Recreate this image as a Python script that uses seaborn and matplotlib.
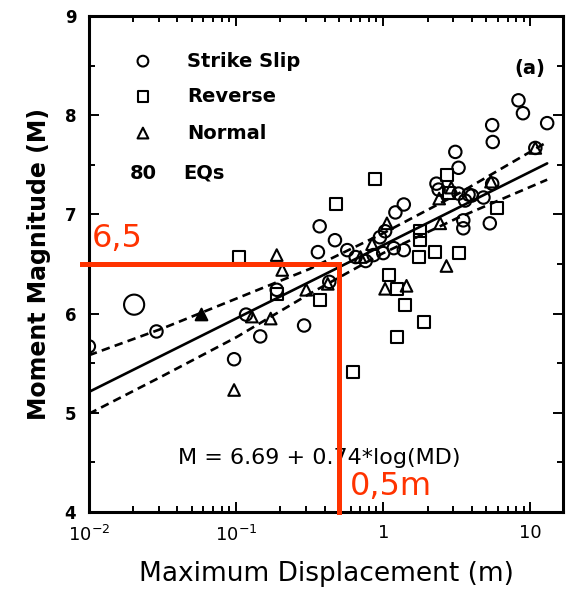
import numpy as np
import pandas as pd
import matplotlib
matplotlib.use("Agg")
import matplotlib.pyplot as plt
import seaborn as sns
from matplotlib.ticker import MultipleLocator, LogLocator, FixedLocator, FixedFormatter

# ---- data ----
strike_md = [0.01, 0.0288, 0.097, 0.117, 0.146, 0.189, 0.29, 0.36, 0.37, 0.43,
             0.47, 0.57, 0.65, 0.76, 0.86, 0.95, 1.0, 1.03, 1.18, 1.21,
             1.38, 1.38, 2.3, 2.38, 3.09, 3.25, 3.25, 3.5, 3.5, 3.6,
             3.8, 4.0, 4.8, 5.3, 5.5, 5.5, 5.55, 8.3, 8.9, 13.0, 10.8]
strike_m = [5.67, 5.82, 5.54, 5.99, 5.77, 6.24, 5.88, 6.62, 6.88, 6.32,
            6.74, 6.64, 6.57, 6.53, 6.59, 6.77, 6.61, 6.83, 6.66, 7.02,
            7.10, 6.64, 7.31, 7.25, 7.63, 7.47, 7.21, 6.94, 6.86, 7.14,
            7.20, 7.19, 7.17, 6.91, 7.31, 7.90, 7.73, 8.15, 8.02, 7.92, 7.67]

big_md = [0.0203]
big_m = [6.09]

reverse_md = [0.104, 0.19, 0.372, 0.48, 0.62, 0.88, 1.10, 1.24, 1.25, 1.41,
              1.74, 1.79, 1.79, 1.90, 2.26, 2.7, 2.8, 3.25, 5.9]
reverse_m = [6.57, 6.20, 6.14, 7.10, 5.41, 7.36, 6.39, 6.25, 5.76, 6.09,
             6.57, 6.83, 6.74, 5.92, 6.62, 7.40, 7.22, 6.61, 7.06]

normal_md = [0.097, 0.128, 0.172, 0.189, 0.206, 0.30, 0.42, 0.70, 0.84, 1.03,
             1.06, 1.44, 2.4, 2.44, 2.69, 2.9, 5.4, 10.8]
normal_m = [5.23, 5.97, 5.95, 6.59, 6.44, 6.24, 6.30, 6.57, 6.70, 6.25,
            6.91, 6.28, 7.16, 6.91, 6.48, 7.27, 7.33, 7.67]

filled_md = [0.0575]
filled_m = [6.0]

# regression M = a + b*log(MD)
coef_a, coef_b = 6.69, 0.74
fit_md = [0.01, 13.0]

band_md = [0.01, 0.0316, 0.1, 0.316, 1.0, 3.16, 13.0]
upper_m = [5.58, 5.85, 6.15, 6.45, 6.81, 7.20, 7.73]
lower_m = [4.99, 5.37, 5.76, 6.20, 6.61, 6.96, 7.35]

target_md = 0.5
target_m = 6.5

xticks = [0.01, 0.1, 1, 10]
xtick_labels = ["$10^{-2}$", "$10^{-1}$", "1", "10"]
yticks = [4, 5, 6, 7, 8, 9]

# ---- style ----
sns.set_style("ticks")
plt.rcParams["font.family"] = ["DejaVu Sans"]
plt.rcParams["mathtext.fontset"] = "dejavusans"
plt.rcParams["text.color"] = "black"
plt.rcParams["axes.labelcolor"] = "black"
plt.rcParams["axes.edgecolor"] = "black"
plt.rcParams["xtick.color"] = "black"
plt.rcParams["ytick.color"] = "black"

fig = plt.figure(figsize=(5.66, 5.95), dpi=100)
ax = fig.add_axes([0.157, 0.1395, 0.838, 0.8336])

mk = dict(facecolor="none", edgecolor="black", color="black", linewidth=1.5, zorder=3)
sns.scatterplot(x=strike_md, y=strike_m, marker="o", s=80, ax=ax, **mk)
sns.scatterplot(x=big_md, y=big_m, marker="o", s=210, ax=ax, **mk)
sns.scatterplot(x=reverse_md, y=reverse_m, marker="s", s=75, ax=ax, **mk)
sns.scatterplot(x=normal_md, y=normal_m, marker="^", s=70, ax=ax, **mk)
sns.scatterplot(x=filled_md, y=filled_m, marker="^", s=70, ax=ax,
                facecolor="black", edgecolor="black", color="black", linewidth=1.5, zorder=3)

fit_m = [coef_a + coef_b * np.log10(v) for v in fit_md]
ax.plot(fit_md, fit_m, color="black", lw=1.9, zorder=2)
ax.plot(band_md, upper_m, color="black", lw=1.9, dashes=(3.2, 2.0), zorder=2)
ax.plot(band_md, lower_m, color="black", lw=1.9, dashes=(3.2, 2.0), zorder=2)

ax.set_xscale("log")
ax.set_xlim(0.01, 16.7)
ax.set_ylim(4, 9)

ax.xaxis.set_major_locator(FixedLocator(xticks))
ax.xaxis.set_major_formatter(FixedFormatter(xtick_labels))
ax.xaxis.set_minor_locator(LogLocator(base=10, subs=np.arange(2, 10)))
ax.yaxis.set_major_locator(FixedLocator(yticks))
ax.yaxis.set_minor_locator(MultipleLocator(0.5))

for sp in ax.spines.values():
    sp.set_linewidth(2.2)
    sp.set_color("black")
ax.tick_params(which="both", direction="in", top=True, right=True, width=1.4,
               color="black", labelcolor="black")
ax.tick_params(which="major", length=7)
ax.tick_params(which="minor", length=4)
ax.tick_params(axis="x", which="major", labelsize=13, pad=9)
ax.tick_params(axis="y", which="major", labelsize=12, pad=9)
for lab in ax.get_yticklabels():
    lab.set_fontweight("bold")

ax.set_xlabel("Maximum Displacement (m)", fontsize=19, labelpad=12)
ax.set_ylabel("Moment Magnitude (M)", fontsize=17, fontweight="bold", labelpad=10)

# legend drawn by hand
leg_items = [("o", "Strike Slip"), ("s", "Reverse"), ("^", "Normal")]
leg_y = [0.909, 0.837, 0.764]
for (m, lab), yy in zip(leg_items, leg_y):
    ax.scatter([0.114], [yy], marker=m, s=60, facecolor="none", edgecolor="black",
               linewidth=1.5, transform=ax.transAxes)
    ax.text(0.207, yy, lab, transform=ax.transAxes, fontsize=14, fontweight="bold",
            va="center", ha="left")
ax.text(0.087, 0.683, "80", transform=ax.transAxes, fontsize=14, fontweight="bold",
        va="center", ha="left")
ax.text(0.200, 0.683, "EQs", transform=ax.transAxes, fontsize=14, fontweight="bold",
        va="center", ha="left")
ax.text(0.93, 0.895, "(a)", transform=ax.transAxes, fontsize=14, fontweight="bold",
        va="center", ha="center")

ax.text(0.188, 0.108, "M = 6.69 + 0.74*log(MD)", transform=ax.transAxes,
        fontsize=16, va="center", ha="left")

# red annotation
red = "#ff3300"
ax.plot([0.009, target_md], [target_m, target_m], color=red, lw=3.6,
        solid_capstyle="projecting", clip_on=False, zorder=5)
ax.plot([target_md, target_md], [4, target_m], color=red, lw=3.6,
        solid_capstyle="projecting", clip_on=False, zorder=5)
ax.text(0.006, 0.535, "6,5", transform=ax.transAxes, color=red, fontsize=23,
        va="baseline", ha="left")
ax.text(0.55, 0.035, "0,5m", transform=ax.transAxes, color=red, fontsize=23,
        va="baseline", ha="left")

fig.savefig("out.png", dpi=100)
